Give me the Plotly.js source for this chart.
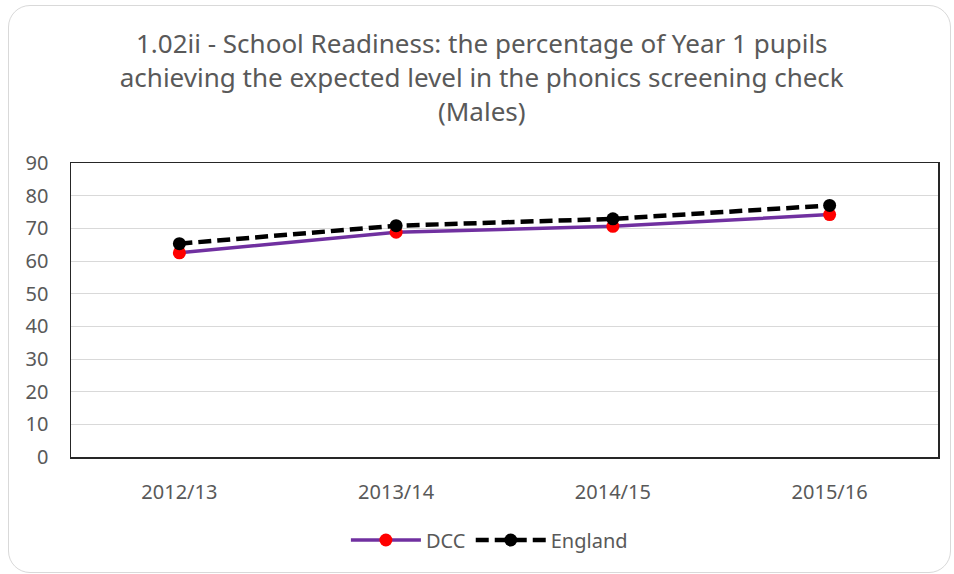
<!DOCTYPE html>
<html>
<head>
<meta charset="utf-8">
<script src="https://cdn.plot.ly/plotly-3.0.1.min.js"></script>
<style>
  html, body { margin: 0; padding: 0; background: #fff; }
  #wrap { position: relative; width: 954px; height: 574px; }
  #chart { width: 954px; height: 574px; }
  #frame { position: absolute; left: 8px; top: 5px; width: 941px; height: 566px;
           border: 1px solid #d9d9d9; border-radius: 22px; pointer-events: none; }
</style>
</head>
<body>
<div id="wrap">
  <div id="chart"></div>
  <div id="frame"></div>
</div>
<script>
const categories = ["2012/13", "2013/14", "2014/15", "2015/16"];
const dccValues = [62.5, 68.8, 70.6, 74.2];
const englandValues = [65.3, 70.8, 72.9, 77.0];
const yTickValues = [0, 10, 20, 30, 40, 50, 60, 70, 80, 90];

const FONT = "Noto Sans, sans-serif";
const TXT = "#595959";

const traces = [
  {
    x: categories, y: dccValues, name: "DCC", type: "scatter", mode: "lines+markers",
    line: { color: "#7030A0", width: 3.5 },
    marker: { color: "#FF0000", size: 13, symbol: "circle" }
  },
  {
    x: categories, y: englandValues, name: "England", type: "scatter", mode: "lines+markers",
    line: { color: "#000000", width: 4.5, dash: "13px,6px" },
    marker: { color: "#000000", size: 13, symbol: "circle" }
  }
];

const layout = {
  width: 954, height: 574,
  margin: { l: 71, r: 16, t: 163, b: 117 },
  paper_bgcolor: "rgba(0,0,0,0)",
  plot_bgcolor: "#ffffff",
  font: { family: FONT, color: TXT, size: 20 },
  title: {
    text: "1.02ii - School Readiness: the percentage of Year 1 pupils<br>achieving the expected level in the phonics screening check<br>(Males)",
    font: { family: FONT, size: 26, color: TXT },
    x: 0.505, xref: "container", xanchor: "center",
    y: 1 - 53 / 574, yref: "container", yanchor: "middle"
  },
  xaxis: {
    type: "category", categoryarray: categories, range: [-0.5, 3.5],
    showgrid: false, zeroline: false,
    showline: true, mirror: true, linecolor: "#262626", linewidth: 1.5,
    ticks: "", ticklabelstandoff: 16,
    tickfont: { family: FONT, size: 20, color: TXT }
  },
  yaxis: {
    range: [0, 90], tickvals: yTickValues, ticktext: yTickValues.map(String),
    showgrid: true, gridcolor: "#d9d9d9", gridwidth: 1, zeroline: false,
    showline: true, mirror: true, linecolor: "#262626", linewidth: 1.5,
    ticks: "", ticklabelstandoff: 17,
    tickfont: { family: FONT, size: 20, color: TXT }
  },
  showlegend: true,
  legend: {
    orientation: "h", x: 0.513, xref: "container", xanchor: "center",
    y: 1 - 540 / 574, yref: "container", yanchor: "middle",
    font: { family: FONT, size: 20, color: TXT },
    itemwidth: 70, bgcolor: "rgba(0,0,0,0)"
  }
};

Plotly.newPlot("chart", traces, layout, { displayModeBar: false, staticPlot: true });
</script>
</body>
</html>
